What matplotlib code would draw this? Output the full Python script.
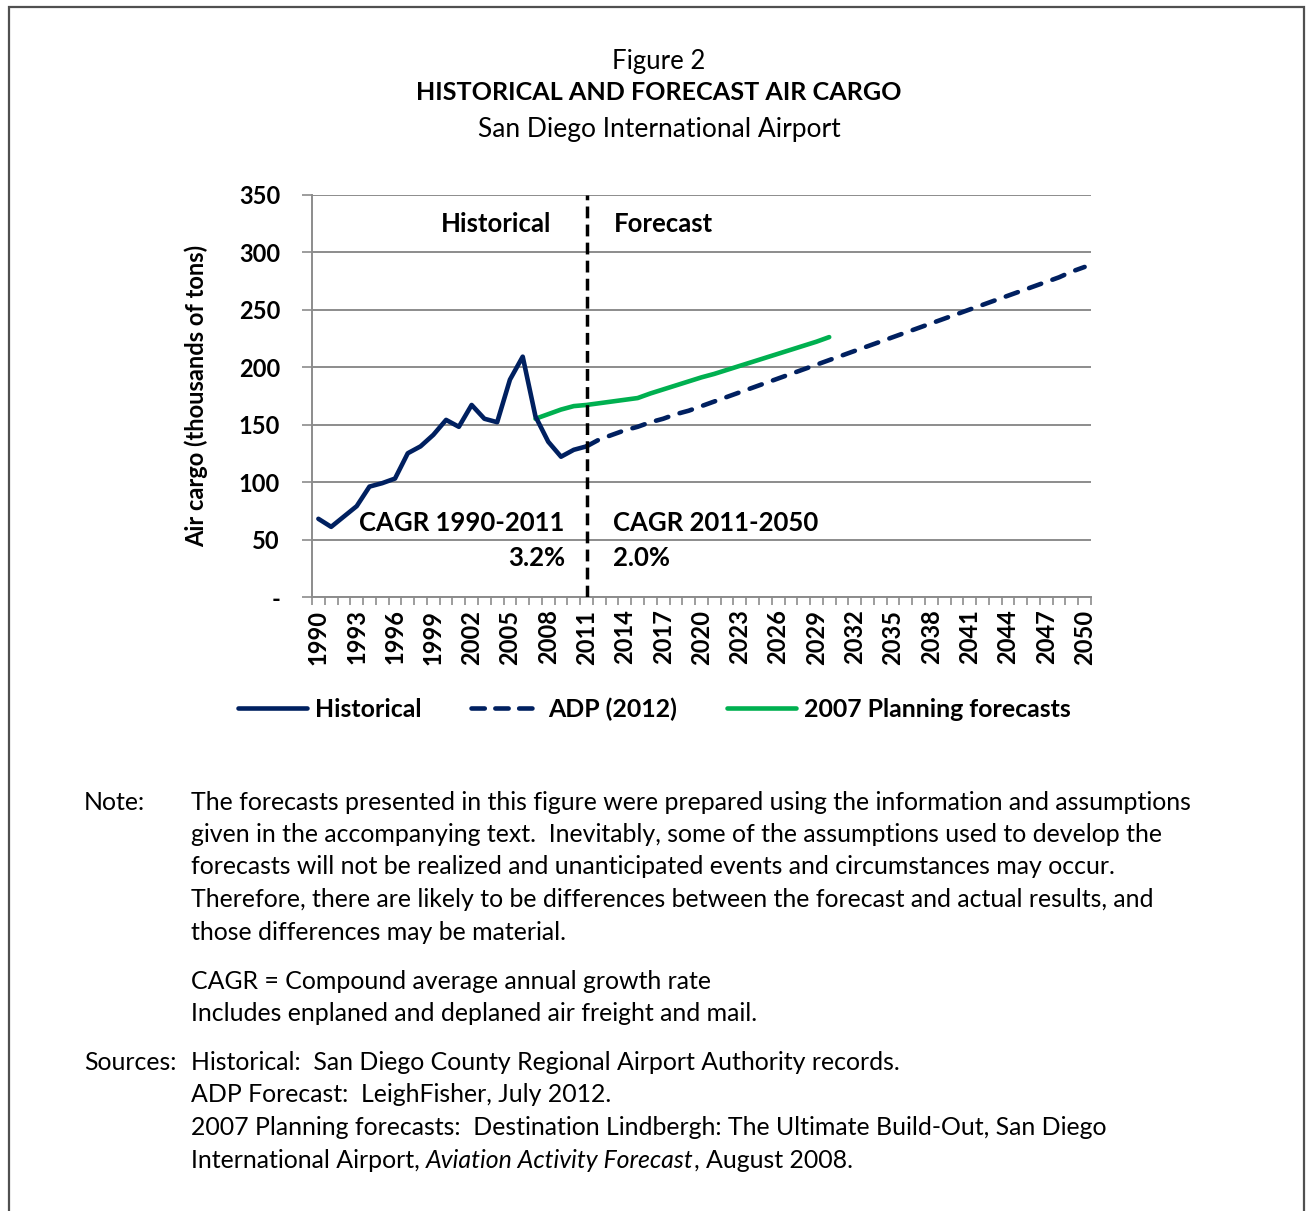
import matplotlib
matplotlib.use("Agg")
import matplotlib.pyplot as plt
from matplotlib.patches import Rectangle
from matplotlib.lines import Line2D

FONT = ["Lato", "DejaVu Sans"]
plt.rcParams["font.family"] = FONT

# ---------------- data ----------------
years = list(range(1990, 2051))
tick_years = list(range(1990, 2051, 3))

hist_years = list(range(1990, 2012))
hist_vals = [68, 61, 70, 79, 96, 99, 103, 125, 131, 141, 154, 148, 167, 155, 152,
             189, 209, 157, 135, 122, 128, 131]

adp_years = list(range(2011, 2051))
adp_vals = [131, 137, 141, 145, 148, 152, 155, 159, 162, 166, 170, 174, 178, 182,
            186, 190, 194, 198, 202, 206, 210, 214, 218, 222, 226, 230, 234, 238,
            242, 246, 250, 254, 258, 262, 266, 270, 274, 278, 283, 287]

plan_years = list(range(2007, 2031))
plan_vals = [155, 159, 163, 166, 167, 168.5, 170, 171.5, 173, 177, 180.5, 184,
             187.5, 191, 194, 197.5, 201, 204.5, 208, 211.5, 215, 218.5, 222, 226]

y_ticks = [0, 50, 100, 150, 200, 250, 300, 350]
y_ticklabels = ["-", "50", "100", "150", "200", "250", "300", "350"]

NAVY = "#002060"
GREEN = "#00B050"
GRID = "#8C8C8C"

W, H = 1306, 1211
fig = plt.figure(figsize=(W / 100, H / 100), dpi=100)

def fx(px):
    return px / W

def fy(py):
    return 1 - py / H

# border frame
fig.add_artist(Rectangle((fx(9), fy(1230)), fx(1304) - fx(9), fy(7) - fy(1230),
                         transform=fig.transFigure, fill=False,
                         edgecolor="#505050", linewidth=1.6))

# titles
fig.text(fx(659), fy(61), "Figure 2", ha="center", va="center", fontsize=18.5)
fig.text(fx(659), fy(93), "HISTORICAL AND FORECAST AIR CARGO", ha="center",
         va="center", fontsize=18.1, fontweight="bold")
fig.text(fx(659), fy(129), "San Diego International Airport", ha="center",
         va="center", fontsize=19)

# axes
L, R, T, B = 312, 1091, 194.5, 597
ax = fig.add_axes([fx(L), fy(B), fx(R) - fx(L), fy(T) - fy(B)])

def idx(yrs):
    return [y - 1990 for y in yrs]

ax.plot(idx(plan_years), plan_vals, color=GREEN, lw=3.3, solid_capstyle="round",
        zorder=3)
ax.plot(idx(hist_years), hist_vals, color=NAVY, lw=3.3, solid_capstyle="round",
        solid_joinstyle="round", zorder=4)
ax.plot(idx(adp_years), adp_vals, color=NAVY, lw=3.3, linestyle=(0, (2.8, 2.6)),
        dash_capstyle="round", zorder=4)

ax.axvline(2011 - 1990, color="black", lw=2.5, linestyle=(0, (3.4, 1.8)), zorder=5)

ax.set_xlim(-0.5, len(years) - 0.5)
ax.set_ylim(0, 350)

ax.set_yticks(y_ticks)
ax.set_yticklabels(y_ticklabels, fontsize=17, fontweight="bold")
ax.tick_params(axis="y", length=7, width=1.2, color=GRID, pad=16, direction="out")

ax.set_xticks(idx(tick_years))
ax.set_xticklabels([str(y) for y in tick_years], rotation=90, fontsize=17,
                   fontweight="bold")
ax.set_xticks([i - 0.5 for i in range(len(years) + 1)], minor=True)
ax.tick_params(axis="x", which="major", length=0, pad=9)
ax.tick_params(axis="x", which="minor", length=6, width=1.2, color=GRID,
               direction="out")

ax.grid(axis="y", color=GRID, lw=1.4)
ax.set_axisbelow(True)
for s in ["top", "right"]:
    ax.spines[s].set_visible(False)
for s in ["left", "bottom"]:
    ax.spines[s].set_color(GRID)
    ax.spines[s].set_linewidth(1.4)

ax.set_ylabel("Air cargo (thousands of tons)", fontsize=17, fontweight="bold",
              labelpad=22)

# in-plot annotations
ax.text(13.9, 324, "Historical", ha="center", va="center", fontsize=18.5,
        fontweight="bold")
ax.text(23.1, 324, "Forecast", ha="left", va="center", fontsize=18.5,
        fontweight="bold")
ax.text(19.3, 64, "CAGR 1990-2011", ha="right", va="center", fontsize=18.5,
        fontweight="bold")
ax.text(19.3, 34, "3.2%", ha="right", va="center", fontsize=18.5,
        fontweight="bold")
ax.text(23.1, 64, "CAGR 2011-2050", ha="left", va="center", fontsize=18.5,
        fontweight="bold")
ax.text(23.1, 34, "2.0%", ha="left", va="center", fontsize=18.5,
        fontweight="bold")

# legend
handles = [
    Line2D([], [], color=NAVY, lw=3.3, solid_capstyle="round"),
    Line2D([], [], color=NAVY, lw=3.3, linestyle=(0, (2.9, 2.3)),
           dash_capstyle="round"),
    Line2D([], [], color=GREEN, lw=3.3, solid_capstyle="round"),
]
fig.legend(handles, ["Historical", "ADP (2012)", "2007 Planning forecasts"],
           loc="center", bbox_to_anchor=(fx(654), fy(709)), ncol=3,
           frameon=False, handlelength=2.8, handletextpad=0.3,
           columnspacing=2.0, prop={"size": 17.9, "weight": "bold"})

# notes
NOTE_FS = 17.9
D = 2.5
note_lines = [
    (800, "The forecasts presented in this figure were prepared using the information and assumptions"),
    (832, "given in the accompanying text.  Inevitably, some of the assumptions used to develop the"),
    (864, "forecasts will not be realized and unanticipated events and circumstances may occur."),
    (897, "Therefore, there are likely to be differences between the forecast and actual results, and"),
    (930, "those differences may be material."),
    (979, "CAGR = Compound average annual growth rate"),
    (1011, "Includes enplaned and deplaned air freight and mail."),
    (1060, "Historical:  San Diego County Regional Airport Authority records."),
    (1092, "ADP Forecast:  LeighFisher, July 2012."),
    (1125, "2007 Planning forecasts:  Destination Lindbergh: The Ultimate Build-Out, San Diego"),
]
fig.text(fx(84), fy(800 + D), "Note:", ha="left", va="center", fontsize=NOTE_FS)
fig.text(fx(84), fy(1060 + D), "Sources:", ha="left", va="center", fontsize=NOTE_FS)
for py, s in note_lines:
    fig.text(fx(191), fy(py + D), s, ha="left", va="center", fontsize=NOTE_FS)

# last line with italic segment
parts = [("International Airport, ", "normal"),
         ("Aviation Activity Forecast", "italic"),
         (", August 2008.", "normal")]
fig.canvas.draw()
renderer = fig.canvas.get_renderer()
xpos = 191
for s, style in parts:
    t = fig.text(fx(xpos), fy(1158 + D), s, ha="left", va="center",
                 fontsize=NOTE_FS, fontstyle=style)
    bb = t.get_window_extent(renderer=renderer)
    xpos = bb.x1

fig.savefig("out.png", dpi=100)
